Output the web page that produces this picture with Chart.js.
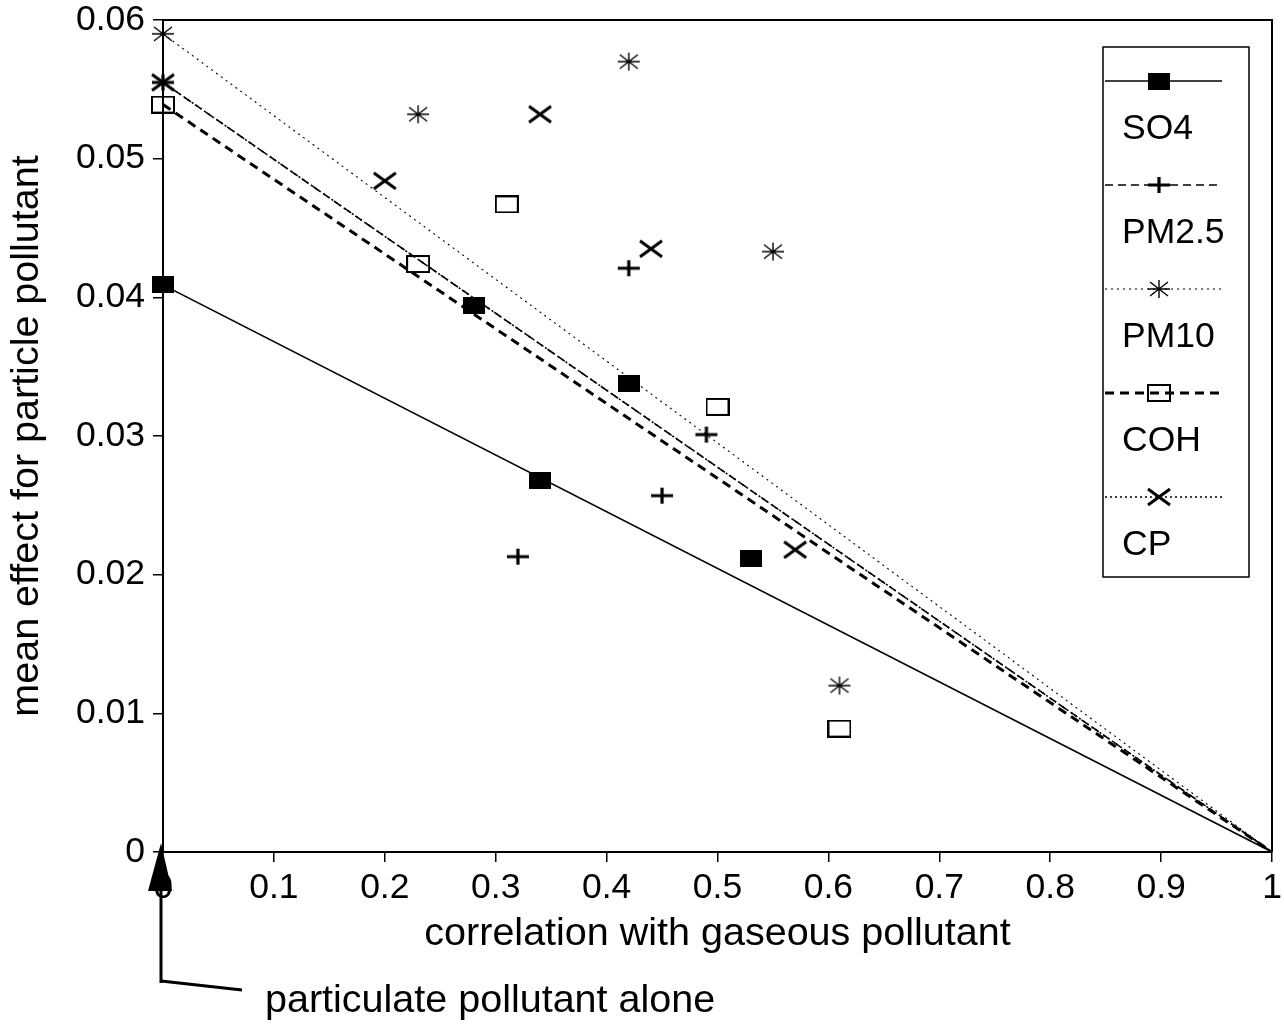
<!DOCTYPE html>
<html>
<head>
<meta charset="utf-8">
<script src="https://cdn.jsdelivr.net/npm/chart.js@4.4.1/dist/chart.umd.min.js"></script>
<style>
  html, body { margin: 0; padding: 0; background: #fff; }
  #c { display: block; }
</style>
</head>
<body>
<canvas id="c" width="1284" height="1026"></canvas>
<script>
// ---- data -------------------------------------------------------------
const seriesNames = ['SO4', 'PM2.5', 'PM10', 'COH', 'CP'];

// correlation with gaseous pollutant (first entry: particulate pollutant alone)
const so4Corr   = [0, 0.28, 0.42, 0.34, 0.53];
const pm25Corr  = [0, 0.42, 0.49, 0.45, 0.32];
const pm10Corr  = [0, 0.23, 0.42, 0.55, 0.61];
const cohCorr   = [0, 0.31, 0.23, 0.50, 0.61];
const cpCorr    = [0, 0.20, 0.34, 0.44, 0.57];

// mean effect for particle pollutant
const so4Effect  = [0.0409, 0.0394, 0.0338, 0.0268, 0.0212];
const pm25Effect = [0.0555, 0.0421, 0.0301, 0.0257, 0.0213];
const pm10Effect = [0.0590, 0.0532, 0.0570, 0.0433, 0.0120];
const cohEffect  = [0.0539, 0.0467, 0.0424, 0.0321, 0.0089];
const cpEffect   = [0.0555, 0.0484, 0.0532, 0.0435, 0.0218];

// every reference line runs from the single-pollutant effect down to zero at full correlation
const fullCorr = 1;
const fullCorrEffect = 0;

const xTickValues = [0, 0.1, 0.2, 0.3, 0.4, 0.5, 0.6, 0.7, 0.8, 0.9, 1];
const xTickLabels = ['0', '0.1', '0.2', '0.3', '0.4', '0.5', '0.6', '0.7', '0.8', '0.9', '1'];
const yTickValues = [0, 0.01, 0.02, 0.03, 0.04, 0.05, 0.06];
const yTickLabels = ['0', '0.01', '0.02', '0.03', '0.04', '0.05', '0.06'];

// ---- marker glyphs ----------------------------------------------------
function glyph(w, h, draw) {
  const c = document.createElement('canvas');
  c.width = w; c.height = h;
  const g = c.getContext('2d');
  g.strokeStyle = '#000'; g.fillStyle = '#000';
  draw(g, w, h);
  return c;
}
const filledBox = glyph(22, 17, g => g.fillRect(0, 0, 22, 17));
const openBox = glyph(24, 18, g => { g.lineWidth = 2; g.strokeRect(1, 1, 22, 16); });
const plusMark = glyph(24, 18, g => {
  g.lineWidth = 3.2;
  g.beginPath(); g.moveTo(1, 9); g.lineTo(23, 9); g.moveTo(12, 1); g.lineTo(12, 17); g.stroke();
});
const starMark = glyph(24, 20, g => {
  g.lineWidth = 1.4;
  g.beginPath();
  g.moveTo(1, 10); g.lineTo(23, 10);
  g.moveTo(12, 1); g.lineTo(12, 19);
  g.moveTo(3, 3); g.lineTo(21, 17);
  g.moveTo(3, 17); g.lineTo(21, 3);
  g.stroke();
});
const crossMark = glyph(26, 20, g => {
  g.lineWidth = 3;
  g.beginPath(); g.moveTo(2, 2); g.lineTo(24, 18); g.moveTo(2, 18); g.lineTo(24, 2); g.stroke();
});

const styles = [
  { marker: filledBox, dash: [],      width: 1.6 },
  { marker: plusMark,  dash: [8, 5],  width: 1.6 },
  { marker: starMark,  dash: [2, 4],  width: 1.1 },
  { marker: openBox,   dash: [9, 6],  width: 3 },
  { marker: crossMark, dash: [2, 3],  width: 1.6 },
];

const corrs = [so4Corr, pm25Corr, pm10Corr, cohCorr, cpCorr];
const effects = [so4Effect, pm25Effect, pm10Effect, cohEffect, cpEffect];

const datasets = [];
seriesNames.forEach((name, i) => {
  const st = styles[i];
  datasets.push({
    type: 'line',
    label: name + ' line',
    data: [{ x: corrs[i][0], y: effects[i][0] }, { x: fullCorr, y: fullCorrEffect }],
    borderColor: '#000',
    borderWidth: st.width,
    borderDash: st.dash,
    pointRadius: 0,
    fill: false,
    order: 2
  });
  datasets.push({
    type: 'scatter',
    label: name,
    data: corrs[i].map((c, k) => ({ x: c, y: effects[i][k] })),
    pointStyle: st.marker,
    pointRadius: 11,
    showLine: false,
    clip: false,
    order: 1
  });
});

// ---- decorations: frame, legend, annotation ----------------------------
const FONT = '"Liberation Sans", Arial, sans-serif';
const decor = {
  id: 'decor',
  afterDraw(chart) {
    const { ctx, chartArea: a, scales: { x } } = chart;
    ctx.save();
    ctx.strokeStyle = '#000';
    ctx.fillStyle = '#000';

    // top and right frame
    ctx.lineWidth = 2;
    ctx.setLineDash([]);
    ctx.beginPath();
    ctx.moveTo(a.left, a.top);
    ctx.lineTo(a.right, a.top);
    ctx.lineTo(a.right, a.bottom);
    ctx.stroke();

    // legend box
    const bx = a.right - 169, by = a.top + 27, bw = 146, bh = 530;
    ctx.lineWidth = 1.5;
    ctx.strokeRect(bx, by, bw, bh);
    ctx.font = '35.5px ' + FONT;
    ctx.textBaseline = 'middle';
    ctx.textAlign = 'left';
    seriesNames.forEach((name, i) => {
      const ly = by + 34 + i * 104;
      const st = styles[i];
      ctx.lineWidth = st.width;
      ctx.setLineDash(st.dash);
      ctx.beginPath();
      ctx.moveTo(bx + 2, ly);
      ctx.lineTo(bx + 119, ly);
      ctx.stroke();
      ctx.setLineDash([]);
      const m = st.marker;
      ctx.drawImage(m, Math.round(bx + 56 - m.width / 2), Math.round(ly - m.height / 2));
      ctx.fillText(name, bx + 19, ly + 48);
    });

    // arrow pointing at the zero-correlation position
    const ax = Math.round(x.getPixelForValue(0)) - 2;
    ctx.lineWidth = 3;
    ctx.beginPath();
    ctx.moveTo(ax, 983);
    ctx.lineTo(ax, 880);
    ctx.stroke();
    ctx.beginPath();
    ctx.moveTo(ax, 981);
    ctx.lineTo(ax + 81, 990);
    ctx.stroke();
    ctx.beginPath();
    ctx.moveTo(ax, 843);
    ctx.lineTo(ax + 11, 891);
    ctx.lineTo(ax - 13, 891);
    ctx.closePath();
    ctx.fill();

    ctx.font = '39.5px ' + FONT;
    ctx.textBaseline = 'alphabetic';
    ctx.fillText('particulate pollutant alone', 265, 1012);
    ctx.restore();
  }
};

Chart.defaults.color = '#000';
Chart.defaults.font.family = FONT;

new Chart(document.getElementById('c'), {
  type: 'scatter',
  data: { datasets },
  plugins: [decor],
  options: {
    responsive: false,
    animation: false,
    devicePixelRatio: 1,
    layout: { padding: { top: 20, right: 11, bottom: 0, left: 0 } },
    plugins: { legend: { display: false }, tooltip: { enabled: false } },
    scales: {
      x: {
        type: 'linear',
        min: 0, max: 1,
        afterBuildTicks: s => { s.ticks = xTickValues.map(v => ({ value: v })); },
        afterFit: s => { s.height = 174; s.paddingLeft = 0; s.paddingRight = 0; },
        grid: { drawOnChartArea: false, drawTicks: true, tickLength: 10, color: '#000', lineWidth: 1.5 },
        border: { display: true, color: '#000', width: 2 },
        ticks: {
          font: { size: 35.5 }, padding: 5, maxRotation: 0, autoSkip: false,
          callback: (v, i) => xTickLabels[i]
        },
        title: { display: true, text: 'correlation with gaseous pollutant', font: { size: 39.5 }, padding: { top: 0, bottom: 68 } }
      },
      y: {
        type: 'linear',
        min: 0, max: 0.06,
        afterBuildTicks: s => { s.ticks = yTickValues.map(v => ({ value: v })); },
        afterFit: s => { s.width = 163; s.paddingTop = 0; s.paddingBottom = 0; },
        grid: { drawOnChartArea: false, drawTicks: true, tickLength: 10, color: '#000', lineWidth: 1.5 },
        border: { display: true, color: '#000', width: 2 },
        ticks: {
          font: { size: 35.5, lineHeight: 1.0 }, padding: 8, autoSkip: false,
          callback: (v, i) => yTickLabels[i]
        },
        title: { display: true, text: 'mean effect for particle pollutant', font: { size: 39.5 }, padding: { top: 3, bottom: 0 } }
      }
    }
  }
});
</script>
</body>
</html>
